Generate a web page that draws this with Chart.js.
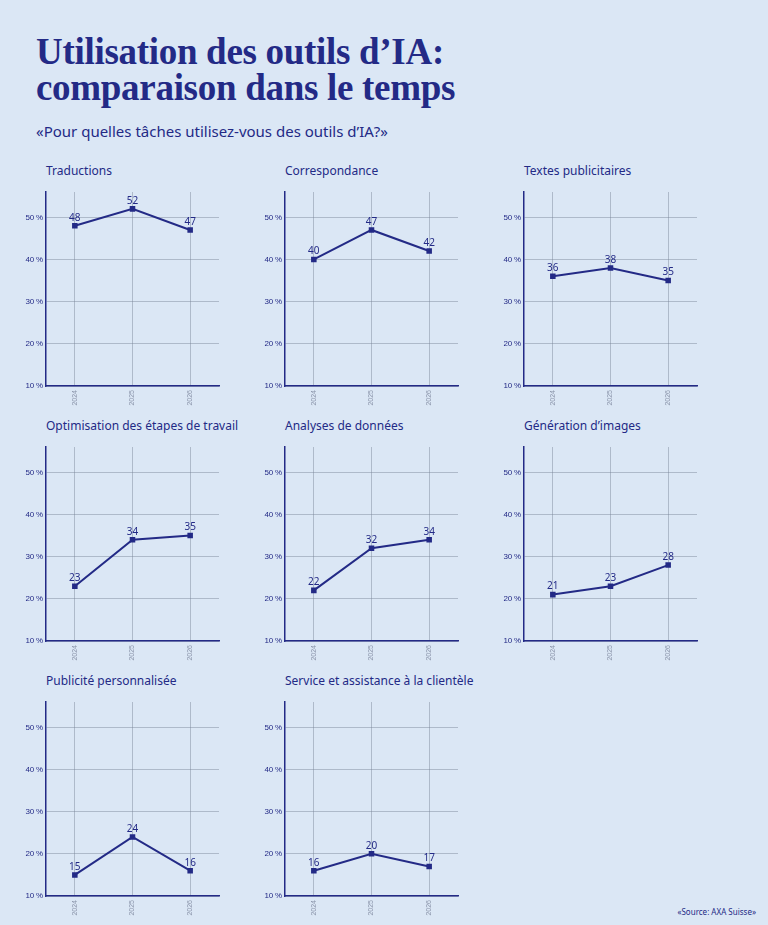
<!DOCTYPE html>
<html><head><meta charset="utf-8">
<script src="https://cdn.jsdelivr.net/npm/chart.js@4/dist/chart.umd.min.js"></script>
<style>
body{margin:0;width:768px;height:925px;background:#dbe7f5;font-family:"Noto Sans",sans-serif;color:#232a86;position:relative;overflow:hidden}
h1{position:absolute;left:36px;top:34px;margin:0;font-family:"Liberation Serif",serif;font-weight:bold;font-size:37px;line-height:36px;color:#232a86;letter-spacing:-0.3px}
.sub{position:absolute;left:36px;top:121px;font-size:15px}
.t{position:absolute;font-size:12px}
canvas{position:absolute}
.src{position:absolute;right:12px;top:906px;font-size:8px}
</style></head><body>
<h1>Utilisation des outils d’IA:<br>comparaison dans le temps</h1>
<div class="sub">«Pour quelles tâches utilisez-vous des outils d’IA?»</div>
<div class="src">«Source: AXA Suisse»</div>
<script>
const years = ["2024","2025","2026"];
const titles = ["Traductions","Correspondance","Textes publicitaires","Optimisation des étapes de travail","Analyses de données","Génération d’images","Publicité personnalisée","Service et assistance à la clientèle"];
const traductions = [48,52,47];
const correspondance = [40,47,42];
const textesPub = [36,38,35];
const optimisation = [23,34,35];
const analyses = [22,32,34];
const images = [21,23,28];
const pubPerso = [15,24,16];
const service = [16,20,17];
const yTicks = [10,20,30,40,50];
const series = [traductions,correspondance,textesPub,optimisation,analyses,images,pubPerso,service];
const navy = "#232a86";
const labelPlugin = {id:"vl",afterDatasetsDraw(c){const ctx=c.ctx;const m=c.getDatasetMeta(0);ctx.save();ctx.fillStyle=navy;ctx.font="10px 'Noto Sans'";ctx.textAlign="center";ctx.textBaseline="bottom";m.data.forEach((p,i)=>ctx.fillText(c.data.datasets[0].data[i],p.x,p.y-3));ctx.restore();}};
series.forEach((d,i)=>{
  const col=i%3,row=Math.floor(i/3);
  const ax=46+col*239, ay=192+row*255;
  const t=document.createElement("div");t.className="t";t.textContent=titles[i];t.style.left=ax+"px";t.style.top=(ay-30)+"px";document.body.appendChild(t);
  const cv=document.createElement("canvas");
  cv.style.left=(ax-26)+"px";cv.style.top=(ay-10)+"px";cv.style.width="205px";cv.style.height="230px";cv.width=205;cv.height=230;
  document.body.appendChild(cv);
  new Chart(cv,{type:"line",data:{labels:years,datasets:[{data:d,borderColor:navy,borderWidth:2,pointStyle:"rect",pointRadius:2.5,pointBackgroundColor:navy,pointBorderColor:navy,tension:0}]},
  options:{responsive:false,animation:false,devicePixelRatio:1,layout:{padding:{top:10,right:0,left:0,bottom:0}},
   plugins:{legend:{display:false},tooltip:{enabled:false}},
   scales:{
    x:{offset:true,grid:{offset:false,color:"rgba(120,130,150,0.45)",drawTicks:false},border:{color:navy,width:1.5},
       ticks:{color:"#8a94aa",font:{size:7},maxRotation:90,minRotation:90,padding:4},afterFit(s){s.height=26;}},
    y:{min:10,max:56,afterBuildTicks(s){s.ticks=yTicks.map(v=>({value:v}));},
       grid:{color:"rgba(120,130,150,0.45)",drawTicks:false},border:{color:navy,width:1.5},
       ticks:{color:navy,font:{size:8},padding:3,callback:v=>v+"\u2009%"},afterFit(s){s.width=26;}}
   }},plugins:[labelPlugin]});
});
</script>
</body></html>
